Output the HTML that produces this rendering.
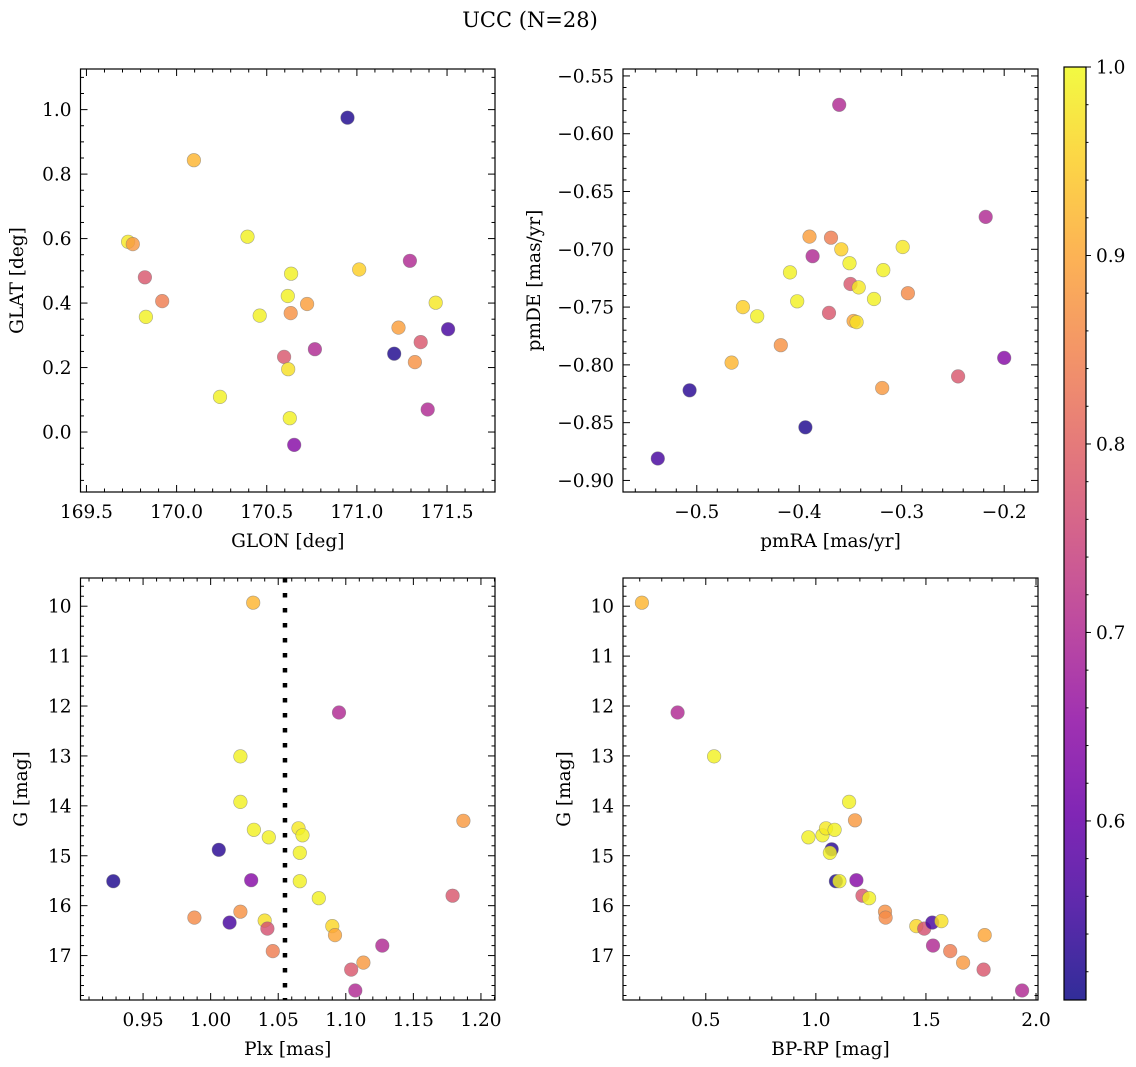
<!DOCTYPE html>
<html><head><meta charset="utf-8"><style>
html,body{margin:0;padding:0;background:#fff;}
svg{display:block;font-family:"DejaVu Serif","Liberation Serif",serif;}
</style></head><body>
<svg id="fig" width="1136" height="1067" viewBox="0 0 1136 1067" xmlns="http://www.w3.org/2000/svg">
<text x="530" y="27" font-size="21" text-anchor="middle">UCC (N=28)</text>
</svg>
<script>
// ---- data ----
const glon = [170.948,170.096,169.731,169.757,169.824,169.920,169.830,170.393,170.635,171.013,171.294,170.617,170.724,170.633,170.461,171.437,171.231,171.506,171.354,170.767,171.207,170.596,171.322,170.619,170.241,170.628,171.393,170.652];
const glat = [0.975,0.843,0.590,0.583,0.480,0.406,0.357,0.606,0.491,0.504,0.531,0.422,0.397,0.369,0.361,0.401,0.324,0.319,0.279,0.257,0.243,0.233,0.217,0.195,0.109,0.043,0.070,-0.040];
const probA = [0.52,0.92,0.98,0.88,0.78,0.84,0.99,0.99,0.99,0.95,0.70,0.99,0.89,0.87,0.99,0.98,0.89,0.56,0.78,0.70,0.52,0.78,0.87,0.97,0.99,0.99,0.70,0.64];

const pmra = [-0.361,-0.218,-0.390,-0.369,-0.359,-0.299,-0.387,-0.351,-0.409,-0.318,-0.350,-0.342,-0.294,-0.327,-0.402,-0.455,-0.441,-0.371,-0.347,-0.344,-0.418,-0.466,-0.200,-0.245,-0.319,-0.507,-0.394,-0.538];
const pmde = [-0.575,-0.672,-0.689,-0.690,-0.700,-0.698,-0.706,-0.712,-0.720,-0.718,-0.730,-0.733,-0.738,-0.743,-0.745,-0.750,-0.758,-0.755,-0.762,-0.763,-0.783,-0.798,-0.794,-0.810,-0.820,-0.822,-0.854,-0.881];
const probB = [0.70,0.70,0.89,0.84,0.95,0.98,0.70,0.99,0.99,0.99,0.78,0.98,0.86,0.99,0.99,0.95,0.99,0.78,0.90,0.97,0.87,0.92,0.64,0.78,0.88,0.53,0.52,0.56];

const plx = [1.0315,1.095,1.022,1.022,1.032,1.043,1.065,1.068,1.066,1.006,0.928,1.030,1.066,1.080,1.187,1.179,0.988,1.014,1.022,1.040,1.042,1.046,1.090,1.092,1.127,1.113,1.104,1.107];
const gmagC = [9.93,12.13,13.01,13.92,14.48,14.63,14.45,14.59,14.94,14.88,15.51,15.49,15.51,15.85,14.30,15.80,16.24,16.34,16.12,16.30,16.46,16.91,16.41,16.59,16.80,17.14,17.28,17.70];
const probC = [0.92,0.70,0.99,0.99,0.99,0.99,0.98,0.99,0.99,0.53,0.52,0.64,0.99,0.99,0.88,0.78,0.86,0.56,0.87,0.97,0.77,0.84,0.96,0.90,0.70,0.88,0.78,0.70];
const plxLine = [1.055];

const bprp = [0.210,0.372,0.538,1.151,1.178,0.966,1.030,1.046,1.085,1.072,1.064,1.091,1.107,1.184,1.212,1.242,1.314,1.317,1.456,1.492,1.529,1.570,1.767,1.532,1.610,1.669,1.762,1.937];
const gmagD = [9.93,12.13,13.01,13.92,14.29,14.63,14.59,14.45,14.48,14.87,14.94,15.51,15.51,15.49,15.80,15.85,16.12,16.24,16.41,16.46,16.34,16.31,16.59,16.80,16.91,17.14,17.28,17.70];
const probD = [0.92,0.70,0.99,0.99,0.88,0.99,0.99,0.98,0.99,0.53,0.99,0.52,0.99,0.64,0.78,0.99,0.87,0.86,0.96,0.77,0.56,0.97,0.90,0.70,0.84,0.88,0.78,0.70];

const cbTicks = [0.6,0.7,0.8,0.9,1.0];
const cbMin = 0.505, cbMax = 1.0;

const NS = "http://www.w3.org/2000/svg";
const svg = document.getElementById('fig');
const FS = 18.5;
function mk(tag, attrs, parent){ const e=document.createElementNS(NS,tag); for(const k in attrs) e.setAttribute(k,attrs[k]); (parent||svg).appendChild(e); return e; }

const plasma = [[13,8,135],[65,4,157],[106,0,168],[143,13,164],[177,42,144],[204,71,120],[225,100,98],[242,132,75],[252,166,54],[252,206,37],[240,249,33]];
function cmap(v){ let t=(v-cbMin)/(cbMax-cbMin); t=Math.max(0,Math.min(1,t)); const p=t*10; const i=Math.min(9,Math.floor(p)); const f=p-i; const a=plasma[i], b=plasma[i+1]; return `rgb(${Math.round(a[0]+(b[0]-a[0])*f)},${Math.round(a[1]+(b[1]-a[1])*f)},${Math.round(a[2]+(b[2]-a[2])*f)})`; }
function fmt(v,d){ const s=v.toFixed(d); return s.startsWith('-')? '\u2212'+s.slice(1): s; }

function panel(cfg){
  const g = mk('g',{});
  
  
  const {x0,y0,w,h}=cfg;
  const sx = v => x0 + (v-cfg.xmin)/(cfg.xmax-cfg.xmin)*w;
  const sy = cfg.invert ? (v => y0 + (v-cfg.ymin)/(cfg.ymax-cfg.ymin)*h) : (v => y0 + h - (v-cfg.ymin)/(cfg.ymax-cfg.ymin)*h);
  for(let i=0;i<cfg.xs.length;i++){
    const c = mk('circle',{cx:sx(cfg.xs[i]).toFixed(1),cy:sy(cfg.ys[i]).toFixed(1),r:6.8,fill:cmap(cfg.cs[i]),'fill-opacity':0.82,stroke:'#777','stroke-opacity':0.6,'stroke-width':0.6},g);
    
    
  }
  if(cfg.vline){
    const l = mk('line',{x1:sx(cfg.vline[0]),x2:sx(cfg.vline[0]),y1:y0,y2:y0+h,stroke:'#000','stroke-width':4.5,'stroke-dasharray':'4.5 10.5'},g);
    
    
  }
  const fr = mk('rect',{x:x0,y:y0,width:w,height:h,fill:'none',stroke:'#000','stroke-width':1.2},g);
  
  
  const eps=1e-9;
  for(let v=Math.ceil(cfg.xmin/cfg.xminor-eps)*cfg.xminor; v<=cfg.xmax+eps; v+=cfg.xminor){
    const vv=Math.round(v/cfg.xminor)*cfg.xminor;
    const major = Math.abs(vv/cfg.xmajor - Math.round(vv/cfg.xmajor))<1e-6;
    const L = major?7:3.5; const X=sx(vv);
    mk('line',{x1:X,x2:X,y1:y0+h,y2:y0+h-L,stroke:'#000','stroke-width':1},g);
    mk('line',{x1:X,x2:X,y1:y0,y2:y0+L,stroke:'#000','stroke-width':1},g);
    if(major){ const t=mk('text',{x:X,y:y0+h+26,'font-size':FS,'text-anchor':'middle'},g); t.textContent=fmt(vv,cfg.xdec);
      
       }
  }
  for(let v=Math.ceil(Math.min(cfg.ymin,cfg.ymax)/cfg.yminor-eps)*cfg.yminor; v<=Math.max(cfg.ymin,cfg.ymax)+eps; v+=cfg.yminor){
    const vv=Math.round(v/cfg.yminor)*cfg.yminor;
    const major = Math.abs(vv/cfg.ymajor - Math.round(vv/cfg.ymajor))<1e-6;
    const L = major?7:3.5; const Y=sy(vv);
    mk('line',{x1:x0,x2:x0+L,y1:Y,y2:Y,stroke:'#000','stroke-width':1},g);
    mk('line',{x1:x0+w,x2:x0+w-L,y1:Y,y2:Y,stroke:'#000','stroke-width':1},g);
    if(major){ const t=mk('text',{x:x0-9,y:Y+6.5,'font-size':FS,'text-anchor':'end'},g); t.textContent=fmt(vv,cfg.ydec);
      
       }
  }
  const xl=mk('text',{x:x0+w/2,y:y0+h+55,'font-size':FS,'text-anchor':'middle'},g); xl.textContent=cfg.xlabel;
  
  
  const ylx=cfg.ylx, yly=y0+h/2;
  const yl=mk('text',{x:ylx,y:yly,'font-size':FS,'text-anchor':'middle',transform:`rotate(-90 ${ylx} ${yly})`},g); yl.textContent=cfg.ylabel;
  
  
}

panel({name:'glon-glat-panel',x0:80.5,y0:69,w:414.5,h:423,xmin:169.467,xmax:171.766,ymin:-0.186,ymax:1.126,xmajor:0.5,xminor:0.1,ymajor:0.2,yminor:0.05,xdec:1,ydec:1,xs:glon,ys:glat,cs:probA,xlabel:'GLON [deg]',ylabel:'GLAT [deg]',ylx:23});
panel({name:'pm-panel',x0:623,y0:69,w:415,h:423,xmin:-0.572,xmax:-0.167,ymin:-0.910,ymax:-0.544,xmajor:0.1,xminor:0.02,ymajor:0.05,yminor:0.01,xdec:1,ydec:2,xs:pmra,ys:pmde,cs:probB,xlabel:'pmRA [mas/yr]',ylabel:'pmDE [mas/yr]',ylx:540});
panel({name:'plx-g-panel',x0:80.5,y0:578,w:414.5,h:422,xmin:0.9037,xmax:1.2104,ymin:9.435,ymax:17.89,invert:true,xmajor:0.05,xminor:0.01,ymajor:1,yminor:0.2,xdec:2,ydec:0,xs:plx,ys:gmagC,cs:probC,vline:plxLine,xlabel:'Plx [mas]',ylabel:'G [mag]',ylx:27});
panel({name:'cmd-panel',x0:623,y0:578,w:415,h:422,xmin:0.124,xmax:2.009,ymin:9.435,ymax:17.89,invert:true,xmajor:0.5,xminor:0.1,ymajor:1,yminor:0.2,xdec:1,ydec:0,xs:bprp,ys:gmagD,cs:probD,xlabel:'BP-RP [mag]',ylabel:'G [mag]',ylx:570});

(function(){
  const cx=1064, cy=67, cw=22, ch=933;
  const g=mk('g',{});
  
  
  const defs=mk('defs',{},g);
  const lg=mk('linearGradient',{id:'cbg',x1:0,y1:1,x2:0,y2:0},defs);
  for(let k=0;k<=20;k++){ const v=cbMin+(cbMax-cbMin)*k/20; mk('stop',{offset:(k/20),'stop-color':cmap(v),'stop-opacity':0.85},lg); }
  mk('rect',{x:cx,y:cy,width:cw,height:ch,fill:'url(#cbg)',stroke:'#000','stroke-width':1.2},g);
  const sy=v=>cy+ch-(v-cbMin)/(cbMax-cbMin)*ch;
  for(let v=0.52; v<=1.0001; v+=0.02){ const Y=sy(v); mk('line',{x1:cx+cw,x2:cx+cw+2.5,y1:Y,y2:Y,stroke:'#000','stroke-width':1},g); }
  for(const v of cbTicks){ const Y=sy(v);
    mk('line',{x1:cx+cw,x2:cx+cw+5,y1:Y,y2:Y,stroke:'#000','stroke-width':1},g);
    const t=mk('text',{x:cx+cw+10,y:Y+6.5,'font-size':FS},g); t.textContent=v.toFixed(1);
    
     }
})();
</script>
</body></html>
